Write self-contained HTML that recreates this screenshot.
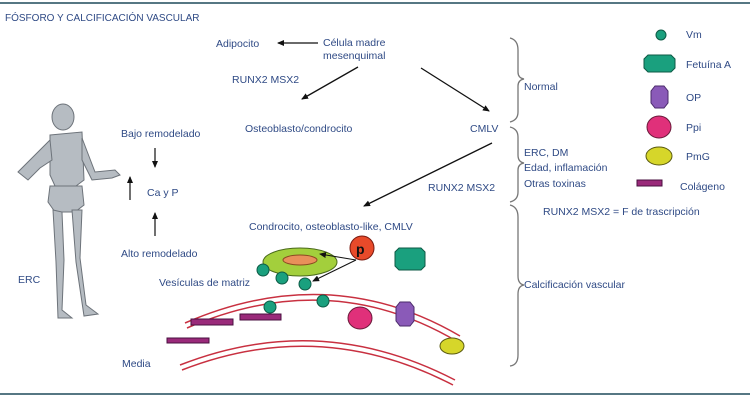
<!DOCTYPE html>
<html><head><meta charset="utf-8"><style>
html,body{margin:0;padding:0;background:#fff;width:750px;height:400px;overflow:hidden}
text{font-family:"Liberation Sans",sans-serif;font-size:10.5px;fill:#2f4a85}
</style></head><body>
<svg width="750" height="400" viewBox="0 0 750 400" xmlns="http://www.w3.org/2000/svg">
<defs><marker id="a" markerWidth="8" markerHeight="8" refX="6" refY="3" orient="auto" markerUnits="userSpaceOnUse"><path d="M0,0 L7,3 L0,6 Z" fill="#111"/></marker></defs>
<line x1="0" y1="3" x2="750" y2="3" stroke="#1e4a5a" stroke-width="1.5"/>
<line x1="0" y1="394" x2="750" y2="394" stroke="#1e4a5a" stroke-width="1.5"/>
<text x="5" y="21" style="font-size:10px">FÓSFORO Y CALCIFICACIÓN VASCULAR</text>
<text x="216" y="47">Adipocito</text>
<text x="323" y="46">Célula madre</text>
<text x="323" y="59">mesenquimal</text>
<line x1="318" y1="43" x2="278" y2="43" stroke="#111" stroke-width="1.3" marker-end="url(#a)"/>
<text x="232" y="83">RUNX2 MSX2</text>
<line x1="358" y1="67" x2="302" y2="99" stroke="#111" stroke-width="1.3" marker-end="url(#a)"/>
<text x="245" y="132">Osteoblasto/condrocito</text>
<line x1="421" y1="68" x2="489" y2="111" stroke="#111" stroke-width="1.3" marker-end="url(#a)"/>
<text x="470" y="132">CMLV</text>
<text x="121" y="137">Bajo remodelado</text>
<line x1="155" y1="148" x2="155" y2="167" stroke="#111" stroke-width="1.2" marker-end="url(#a)"/>
<text x="147" y="196">Ca y P</text>
<line x1="130" y1="200" x2="130" y2="177" stroke="#111" stroke-width="1.2" marker-end="url(#a)"/>
<line x1="155" y1="236" x2="155" y2="213" stroke="#111" stroke-width="1.2" marker-end="url(#a)"/>
<text x="121" y="257">Alto remodelado</text>
<text x="18" y="283">ERC</text>
<text x="428" y="191">RUNX2 MSX2</text>
<line x1="492" y1="143" x2="364" y2="206" stroke="#111" stroke-width="1.3" marker-end="url(#a)"/>
<text x="249" y="230">Condrocito, osteoblasto-like, CMLV</text>
<text x="159" y="286">Vesículas de matriz</text>
<text x="122" y="367">Media</text>
<!-- skeleton -->
<g fill="#b6bcc2" stroke="#6d737a" stroke-width="1">
<ellipse cx="63" cy="117" rx="11" ry="13"/>
<path d="M50,135 L82,132 L84,180 L76,186 L55,186 L50,175Z"/>
<path d="M50,140 L18,172 L28,180 L40,168 L52,160Z"/>
<path d="M82,138 L95,172 L115,170 L120,175 L112,178 L92,180 L82,160Z"/>
<path d="M50,186 L82,186 L84,205 L75,212 L55,212 L48,202Z"/>
<path d="M53,210 L62,212 L64,260 L62,310 L72,318 L58,318 L56,262Z"/>
<path d="M72,210 L82,210 L80,258 L86,305 L98,314 L84,316 L76,262Z"/>
</g>
<!-- braces -->
<g fill="none" stroke="#777" stroke-width="1.3">
<path d="M510,38 Q518,40 518,50 L518,72 Q518,78 524,79 Q518,80 518,86 L518,112 Q518,120 510,122"/>
<path d="M510,127 Q518,129 518,137 L518,155 Q518,162 524,163 Q518,164 518,170 L518,192 Q518,200 510,202"/>
<path d="M510,205 Q518,207 518,217 L518,276 Q518,284 524,285 Q518,286 518,294 L518,355 Q518,365 510,366"/>
</g>
<text x="524" y="90">Normal</text>
<text x="524" y="156">ERC, DM</text>
<text x="524" y="171">Edad, inflamación</text>
<text x="524" y="187">Otras toxinas</text>
<text x="543" y="215">RUNX2 MSX2 = F de trascripción</text>
<text x="524" y="288">Calcificación vascular</text>
<!-- legend -->
<circle cx="661" cy="35" r="5" fill="#1aa07e" stroke="#0d5a45"/>
<text x="686" y="38">Vm</text>
<path d="M648,55 L671,55 L675,59 L675,68 L671,72 L648,72 L644,68 L644,59Z" fill="#1aa07e" stroke="#0d5a45"/>
<text x="686" y="68">Fetuína A</text>
<path d="M655,86 L664,86 L668,91 L668,103 L664,108 L655,108 L651,103 L651,91Z" fill="#8a5ab8" stroke="#4a2a6a"/>
<text x="686" y="101">OP</text>
<ellipse cx="659" cy="127" rx="12" ry="11" fill="#e0307a" stroke="#6a1a3a"/>
<text x="686" y="131">Ppi</text>
<ellipse cx="659" cy="156" rx="13" ry="9" fill="#d6d62a" stroke="#5a5a10"/>
<text x="686" y="160">PmG</text>
<rect x="637" y="180" width="25" height="6" fill="#9a2a7a" stroke="#4a1040"/>
<text x="680" y="190">Colágeno</text>
<!-- vessel -->
<g fill="none" stroke="#c83040" stroke-width="1.5">
<path d="M185,323 Q330,260 460,336"/>
<path d="M187,328 Q330,266 458,342"/>
<path d="M180,365 Q320,310 455,380"/>
<path d="M182,370 Q320,316 453,385"/>
</g>
<rect x="191" y="319" width="42" height="6" fill="#9a2a7a" stroke="#4a1040"/>
<rect x="240" y="314" width="41" height="6" fill="#9a2a7a" stroke="#4a1040"/>
<rect x="167" y="338" width="42" height="5" fill="#9a2a7a" stroke="#4a1040"/>
<ellipse cx="360" cy="318" rx="12" ry="11" fill="#e0307a" stroke="#6a1a3a"/>
<path d="M400,302 L410,302 L414,307 L414,321 L410,326 L400,326 L396,321 L396,307Z" fill="#8a5ab8" stroke="#4a2a6a"/>
<ellipse cx="452" cy="346" rx="12" ry="8" fill="#d6d62a" stroke="#5a5a10"/>
<!-- cell -->
<ellipse cx="300" cy="262" rx="37" ry="14" fill="#a3cf3c" stroke="#4a6a1a"/>
<ellipse cx="300" cy="260" rx="17" ry="5" fill="#e8905a" stroke="#8a4a20"/>
<circle cx="362" cy="248" r="12" fill="#e84a2a" stroke="#7a1a10"/>
<text x="356" y="254" style="font-size:14px;font-weight:bold;fill:#111">p</text>
<line x1="356" y1="260" x2="320" y2="254" stroke="#111" stroke-width="1" marker-end="url(#a)"/>
<line x1="356" y1="260" x2="313" y2="281" stroke="#111" stroke-width="1" marker-end="url(#a)"/>
<path d="M399,248 L421,248 L425,252 L425,266 L421,270 L399,270 L395,266 L395,252Z" fill="#1aa07e" stroke="#0d5a45"/>
<g fill="#1aa07e" stroke="#0d5a45">
<circle cx="263" cy="270" r="6"/><circle cx="282" cy="278" r="6"/><circle cx="305" cy="284" r="6"/>
<circle cx="270" cy="307" r="6"/><circle cx="323" cy="301" r="6"/>
</g>
</svg>
</body></html>
